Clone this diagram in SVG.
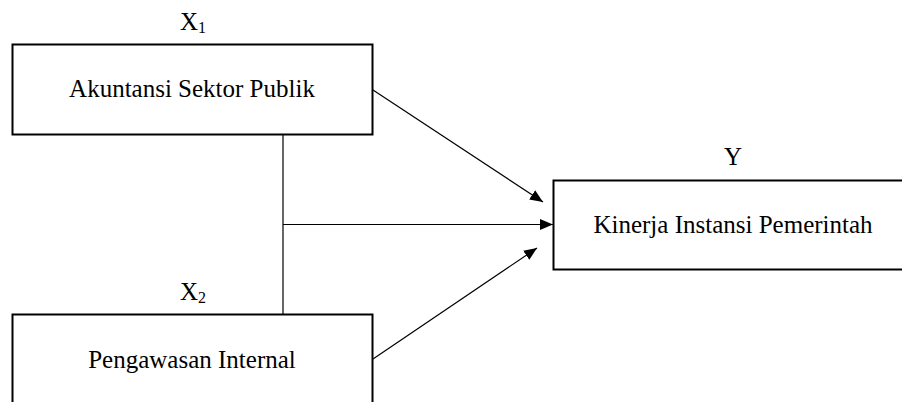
<svg xmlns="http://www.w3.org/2000/svg" width="902" height="402" viewBox="0 0 902 402">
<defs>
<marker id="ah" markerUnits="userSpaceOnUse" markerWidth="14" markerHeight="12" refX="13" refY="5.5" orient="auto">
<path d="M0,0 L13,5.5 L0,11 z" fill="#000"/>
</marker>
</defs>
<style>
.box{fill:#fff;stroke:#000;stroke-width:2}
.t{font-family:"Liberation Serif","Times New Roman",serif;font-size:25px;fill:#000;text-anchor:middle}
.lbl{font-family:"Liberation Serif","Times New Roman",serif;font-size:25px;fill:#000}
.sub{font-size:16px}
.c{stroke:#000;stroke-width:1.2;fill:none}
</style>
<rect width="902" height="402" fill="#fff"/>
<g id="connectors">
<line class="c" x1="283" y1="134" x2="283" y2="314"/>
<line class="c" x1="283" y1="224.5" x2="553" y2="224.5" marker-end="url(#ah)"/>
<line class="c" x1="373" y1="90" x2="543" y2="202" marker-end="url(#ah)"/>
<line class="c" x1="373" y1="359" x2="537" y2="248" marker-end="url(#ah)"/>
</g>
<g id="x1">
<text class="lbl" x="180" y="30">X<tspan class="sub" dy="3">1</tspan></text>
<rect class="box" x="12.5" y="44.5" width="360" height="90"/>
<text class="t" x="192" y="97">Akuntansi Sektor Publik</text>
</g>
<g id="x2">
<text class="lbl" x="180" y="300">X<tspan class="sub" dy="3">2</tspan></text>
<rect class="box" x="12.5" y="314.5" width="360" height="100"/>
<text class="t" x="192" y="368">Pengawasan Internal</text>
</g>
<g id="y">
<text class="t" x="733" y="165">Y</text>
<rect class="box" x="553.5" y="180.5" width="360" height="89"/>
<text class="t" x="733" y="233">Kinerja Instansi Pemerintah</text>
</g>
</svg>
